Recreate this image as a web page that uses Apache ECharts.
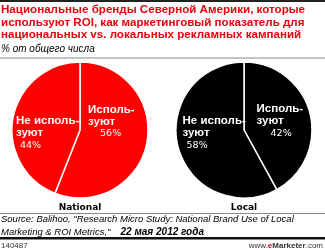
<!DOCTYPE html>
<html><head><meta charset="utf-8">
<script src="https://cdn.jsdelivr.net/npm/echarts@6/dist/echarts.min.js"></script>
<style>html,body{margin:0;padding:0;background:#fff}#c{width:325px;height:250px}</style>
</head><body><div id="c"></div>
<script>
const categories = ['Используют', 'Не используют'];
const labelTexts = ['Исполь-\nзуют', 'Не исполь-\nзуют'];
const nationalValues = [56, 44];
const localValues = [42, 58];
const pieNames = ['National', 'Local'];

const chart = echarts.init(document.getElementById('c'), null, {renderer: 'canvas'});
const FONT = 'Liberation Sans';

function makeData(values, offsets, pads) {
  return values.map((v, i) => ({
    name: categories[i],
    value: v,
    label: { offset: offsets[i], rich: { v: { padding: [0, 0, 0, pads[i]] } } }
  }));
}

function pie(center, values, color, offsets, pads) {
  return {
    type: 'pie',
    center: center,
    radius: 68,
    startAngle: 90,
    clockwise: true,
    silent: true,
    animation: false,
    itemStyle: { color: color, borderColor: '#fff', borderWidth: 1.5 },
    label: {
      show: true,
      position: 'inside',
      formatter: p => '{b|' + labelTexts[p.dataIndex] + '}\n{v|' + p.value + '%}',
      rich: {
        b: { fontFamily: FONT, fontWeight: 'bold', fontSize: 11.5, color: '#fff', lineHeight: 12, align: 'left' },
        v: { fontFamily: 'DejaVu Sans', fontWeight: 'normal', fontSize: 9.5, color: '#fff', lineHeight: 13, align: 'left' }
      }
    },
    labelLine: { show: false },
    data: makeData(values, offsets, pads)
  };
}

chart.setOption({
  animation: false,
  title: [
    { text: 'Национальные бренды Северной Америки, которые\nиспользуют ROI, как маркетинговый показатель для\nнациональных vs. локальных рекламных кампаний',
      left: 1, top: 4, padding: 0,
      textStyle: { fontFamily: FONT, fontWeight: 'bold', fontSize: 11.6, color: '#e8000b', lineHeight: 12.5 } },
    { text: '% от общего числа', left: 1, top: 44, padding: 0,
      textStyle: { fontFamily: FONT, fontStyle: 'italic', fontWeight: 'normal', fontSize: 10, color: '#000' } },
    { text: pieNames[0], left: 80, top: 203, padding: 0, textAlign: 'center',
      textStyle: { fontFamily: 'DejaVu Sans', fontWeight: 'bold', fontSize: 9, color: '#000' } },
    { text: pieNames[1], left: 244, top: 203, padding: 0, textAlign: 'center',
      textStyle: { fontFamily: 'DejaVu Sans', fontWeight: 'bold', fontSize: 9, color: '#000' } },
    { text: '{s|Source: Balihoo, "Research Micro Study: National Brand Use of Local}\n{s|Marketing & ROI Metrics,"}  {d|22 мая 2012 года}',
      left: 1, top: 214.5, padding: 0,
      textStyle: { fontWeight: 'normal', fontStyle: 'italic', rich: {
        s: { fontFamily: 'Liberation Sans', fontStyle: 'italic', fontWeight: 'normal', fontSize: 9.5, color: '#000', lineHeight: 9 },
        d: { fontFamily: 'Liberation Sans', fontStyle: 'italic', fontWeight: 'bold', fontSize: 10, color: '#000', lineHeight: 9 }
      } } },
    { text: '140487', left: 1, top: 242, padding: 0,
      textStyle: { fontFamily: 'Liberation Sans', fontWeight: 'normal', fontSize: 8, color: '#333' } },
    { text: '{a|www.}{e|e}{m|Marketer}{a|.com}', right: 2, top: 242, padding: 0,
      textStyle: { fontWeight: 'normal', rich: {
        a: { fontFamily: 'Liberation Sans', fontWeight: 'normal', fontSize: 8, color: '#333' },
        e: { fontFamily: 'Liberation Sans', fontSize: 8, fontWeight: 'bold', color: '#e8000b' },
        m: { fontFamily: 'Liberation Sans', fontSize: 8, fontWeight: 'bold', color: '#333' }
      } } }
  ],
  graphic: [
    { type: 'rect', shape: { x: 0, y: 0, width: 325, height: 2 }, style: { fill: '#222' }, silent: true },
    { type: 'rect', shape: { x: 0, y: 57.5, width: 325, height: 1 }, style: { fill: '#888' }, silent: true },
    { type: 'rect', shape: { x: 0, y: 213, width: 325, height: 1 }, style: { fill: '#888' }, silent: true },
    { type: 'rect', shape: { x: 0, y: 237, width: 325, height: 2.5 }, style: { fill: '#111' }, silent: true }
  ],
  series: [
    pie([80, 130], nationalValues, '#ff0000', [[-5, -15], [4, 10]], [12, 4]),
    pie([244, 130], localValues, '#000000', [[0, 1], [6, -6]], [14, 4])
  ]
});
</script></body></html>
